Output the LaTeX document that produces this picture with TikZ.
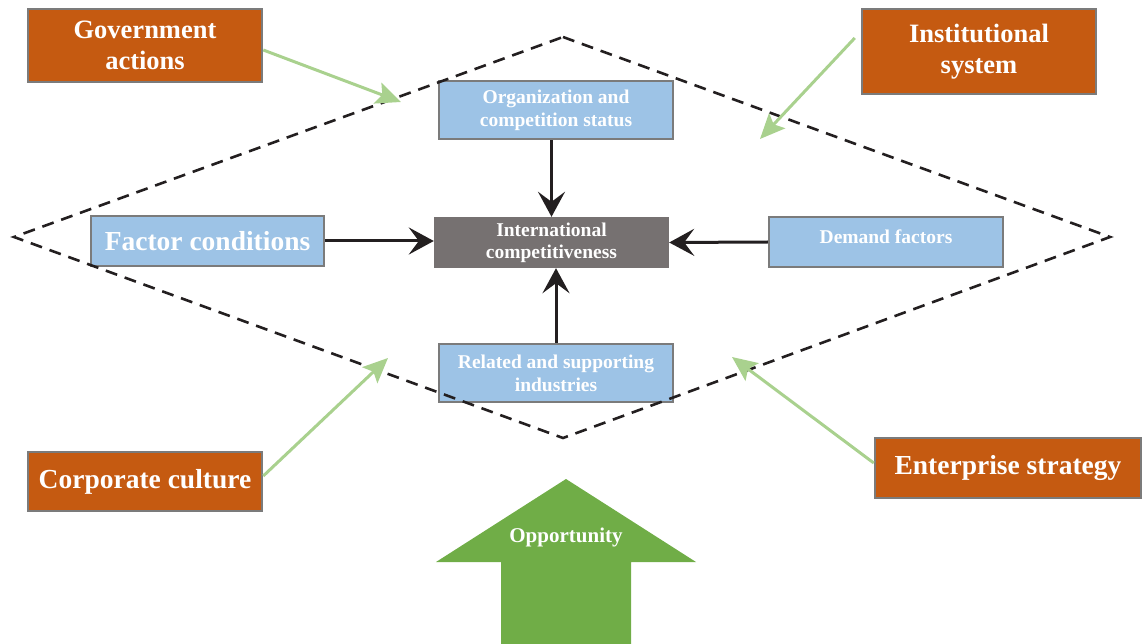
\documentclass[tikz,border=0pt]{standalone}
\usepackage{fontspec}
\setmainfont{Liberation Serif}
\usetikzlibrary{arrows.meta,calc}

\definecolor{orangebox}{HTML}{C55A11}
\definecolor{bluebox}{HTML}{9DC3E6}
\definecolor{greybox}{HTML}{767171}
\definecolor{edgegrey}{HTML}{7B7B7B}
\definecolor{leafgreen}{HTML}{A9D18E}
\definecolor{oppgreen}{HTML}{70AD47}
\definecolor{inkblack}{HTML}{231F20}

\tikzset{
  outer/.style={draw=edgegrey, line width=2.5pt, fill=orangebox, text=white,
    font=\bfseries\fontsize{26.5}{31}\selectfont, align=center, inner sep=0pt,
    minimum width=234pt},
  inner/.style={draw=edgegrey, line width=2.5pt, fill=bluebox, text=white,
    font=\bfseries\fontsize{19.5}{23}\selectfont, align=center, inner sep=0pt,
    minimum width=234pt},
  core/.style={fill=greybox, text=white,
    font=\bfseries\fontsize{19.5}{22}\selectfont, align=center, inner sep=0pt,
    minimum width=235pt, minimum height=51pt},
  frame/.style={draw=inkblack, line width=2.6pt, dash pattern=on 12pt off 8pt},
  force/.style={draw=inkblack, line width=3pt,
    -{Stealth[length=25pt,width=27pt,inset=10pt]}},
  influence/.style={draw=leafgreen, line width=3pt,
    -{Stealth[length=25pt,width=22pt,inset=5pt]}},
}

\begin{document}
\begin{tikzpicture}[x=1pt, y=-1pt]
  \useasboundingbox (0,0) rectangle (1142,644);

  % diamond corners
  \coordinate (dtop) at (563,37);
  \coordinate (dleft) at (14,237);
  \coordinate (dright) at (1110,237);
  \coordinate (dbottom) at (563,438);

  % external influences
  \node[outer, minimum height=73pt] (gov) at (145,45.5) {Government\\actions};
  \node[outer, minimum height=85pt] (inst) at (979,51.5) {Institutional\\system};
  \node[outer, minimum height=59pt, font=\bfseries\fontsize{27.5}{31}\selectfont] (corp) at (145,481.5) {Corporate culture};
  \node[outer, minimum height=60pt, minimum width=266pt, font=\bfseries\fontsize{27.5}{31}\selectfont] (ent) at (1008,468) {Enterprise strategy};

  % diamond determinants
  \node[inner, minimum height=58pt] (org) at (556,110) {Organization and\\competition status};
  \node[inner, minimum height=50pt, minimum width=233pt, font=\bfseries\fontsize{27.5}{31}\selectfont] (fac) at (207.5,241) {Factor conditions};
  \node[inner, minimum height=50pt] (dem) at (886,242) {\raisebox{11pt}{Demand factors}};
  \node[inner, minimum height=58pt] (rel) at (556,373) {Related and supporting\\industries};
  \node[core] (intl) at (551.5,242.5) {International\\competitiveness};

  % dashed diamond
  \draw[frame] (dtop) -- (dright) -- (dbottom) -- (dleft) -- cycle;

  % arrows into the core
  \draw[force] (org.south -| intl.north) -- (intl.north);
  \draw[force] (fac.east) -- (fac.east -| intl.west);
  \draw[force] (dem.west) -- (intl.east);
  \draw[force] (rel.north) -- (rel.north |- intl.south);

  % influence arrow targets on the diamond
  \coordinate (govtip) at (401,102);
  \coordinate (insttip) at (760,139);
  \coordinate (corptip) at (388,358);
  \coordinate (enttip) at (732,357);

  \draw[influence] ([yshift=-4.5pt]gov.east) -- (govtip);
  \draw[influence] ([xshift=-6pt,yshift=13.5pt]inst.west) -- (insttip);
  \draw[influence] ([yshift=5.5pt]corp.east) -- (corptip);
  \draw[influence] ([yshift=5pt]ent.west) -- (enttip);

  % opportunity arrow
  \fill[oppgreen] (566,479) -- (696,562) -- (631,562) -- (631,644)
    -- (501,644) -- (501,562) -- (436,562) -- cycle;
  \node[text=white, font=\bfseries\fontsize{21}{24}\selectfont] (opp) at (566,537) {Opportunity};
\end{tikzpicture}
\end{document}
